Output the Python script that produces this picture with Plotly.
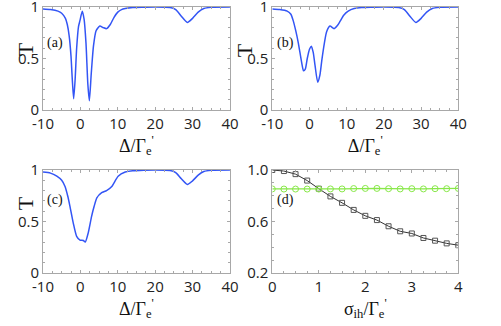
import plotly.graph_objects as go
from plotly.subplots import make_subplots

# Panel (a): transmission vs detuning
delta_a = [-10, -8, -6, -5, -4, -3.5, -3, -2.5, -2.2, -1.8, -1.4, -1.0, -0.5, -0.1, 0.5, 1.0, 1.5,
           2.0, 2.4, 2.9, 3.5, 4.2, 5.2, 6.1, 7.0, 8.0, 9.0, 10, 11, 12, 14, 17, 20, 24, 25.5, 27,
           28.6, 30, 31.5, 33, 35, 40]
t_a = [0.98, 0.975, 0.96, 0.94, 0.89, 0.83, 0.72, 0.52, 0.32, 0.11, 0.3, 0.6, 0.81, 0.87, 0.96,
       0.88, 0.65, 0.25, 0.09, 0.35, 0.62, 0.77, 0.815, 0.80, 0.79, 0.83, 0.9, 0.95, 0.975, 0.985,
       0.995, 0.998, 1.0, 0.995, 0.975, 0.91, 0.85, 0.89, 0.95, 0.985, 0.997, 1.0]

# Panel (b)
delta_b = [-10, -8, -6, -5, -4.4, -3.7, -3.0, -2.1, -1.6, -1.1, -0.6, 0.0, 0.5, 1.0, 1.5, 2.2, 2.8,
           3.3, 4.0, 4.6, 5.5, 6.6, 7.5, 8.2, 9.2, 10.4, 12, 14, 17, 20, 24, 25.5, 27, 28.6, 30,
           31.5, 33, 35, 40]
t_b = [0.98, 0.975, 0.96, 0.93, 0.87, 0.77, 0.65, 0.46, 0.38, 0.40, 0.50, 0.59, 0.62, 0.56, 0.43,
       0.27, 0.34, 0.48, 0.65, 0.76, 0.815, 0.79, 0.82, 0.86, 0.92, 0.96, 0.985, 0.995, 0.998, 1.0,
       0.995, 0.975, 0.91, 0.85, 0.89, 0.95, 0.985, 0.997, 1.0]

# Panel (c)
delta_c = [-10, -8, -6.3, -5, -4.1, -3.4, -2.8, -1.9, -1.0, -0.1, 0.8, 1.3, 2.1, 3.0, 3.7, 4.4,
           5.7, 7.0, 8.4, 10.1, 12, 14, 17, 20, 24, 25.5, 27, 28.6, 30, 31.5, 33, 35, 40]
t_c = [0.98, 0.97, 0.94, 0.9, 0.84, 0.75, 0.65, 0.485, 0.356, 0.32, 0.315, 0.30, 0.39, 0.55, 0.65,
       0.73, 0.78, 0.80, 0.84, 0.94, 0.98, 0.993, 0.998, 1.0, 0.995, 0.975, 0.915, 0.86, 0.895,
       0.95, 0.985, 0.997, 1.0]

# Panel (d): dependence on inhomogeneous broadening
sigma_d = [0, 0.25, 0.5, 0.75, 1.0, 1.25, 1.5, 1.75, 2.0, 2.25, 2.5, 2.75, 3.0, 3.25, 3.5, 3.75, 4.0]
t_black = [1.0, 0.992, 0.968, 0.918, 0.855, 0.795, 0.745, 0.69, 0.644, 0.611, 0.563, 0.524,
           0.507, 0.472, 0.451, 0.43, 0.416]
t_green = [0.853, 0.852, 0.852, 0.852, 0.852, 0.853, 0.853, 0.856, 0.857, 0.857, 0.855, 0.853,
           0.855, 0.853, 0.855, 0.855, 0.857]

blue = "#3355f5"
green = "#88e848"
frame = "#a8a8a8"
tick_font = dict(family="Open Sans", size=15, color="#222")
serif = "Liberation Serif"

fig = make_subplots(rows=2, cols=2)

for (dx, ty), (r, c) in zip([(delta_a, t_a), (delta_b, t_b), (delta_c, t_c)],
                            [(1, 1), (1, 2), (2, 1)]):
    fig.add_trace(go.Scatter(x=dx, y=ty, mode="lines",
                             line=dict(color=blue, width=1.5, shape="spline", smoothing=0.6),
                             showlegend=False), row=r, col=c)

fig.add_trace(go.Scatter(x=sigma_d, y=t_black, mode="lines+markers",
                         line=dict(color="#333", width=1),
                         marker=dict(symbol="square-open", size=5, color="#555",
                                     line=dict(width=1)),
                         showlegend=False), row=2, col=2)
fig.add_trace(go.Scatter(x=sigma_d, y=t_green, mode="lines+markers",
                         line=dict(color=green, width=1.2),
                         marker=dict(symbol="circle-open", size=6, color=green,
                                     line=dict(width=1)),
                         showlegend=False), row=2, col=2)

xdom = [[0.0858, 0.459], [0.5435, 0.9148]]
ydom = [[0.6626, 0.9785], [0.1626, 0.4785]]

axis_common = dict(showline=True, linecolor=frame, linewidth=1, mirror="ticks",
                   ticks="inside", ticklen=3, tickcolor=frame, showgrid=False,
                   zeroline=False, tickfont=tick_font, automargin=False,
                   ticklabeloverflow="allow")

title_x = "Δ/Γ<sub>e</sub><sup>'</sup>"
for i, (r, c) in enumerate([(1, 1), (1, 2), (2, 1), (2, 2)]):
    if i < 3:
        fig.update_xaxes(range=[-10, 40], tickvals=[-10, 0, 10, 20, 30, 40],
                         ticktext=["-10", "0", "10", "20", "30", "40"],
                         minor=dict(ticks="inside", ticklen=2, dtick=2.5, tickcolor=frame),
                         title=dict(text=title_x, font=dict(family=serif, size=18, color="#111"),
                                    standoff=0),
                         domain=xdom[c - 1], row=r, col=c, **axis_common)
        fig.update_yaxes(range=[0, 1], tickvals=[0, 0.5, 1],
                         minor=dict(ticks="inside", ticklen=2, dtick=0.1, tickcolor=frame),
                         domain=ydom[r - 1], row=r, col=c, **axis_common)
    else:
        fig.update_xaxes(range=[0, 4], tickvals=[0, 1, 2, 3, 4],
                         minor=dict(ticks="inside", ticklen=2, dtick=0.25, tickcolor=frame),
                         title=dict(text="σ<sub>ih</sub>/Γ<sub>e</sub><sup>'</sup>",
                                    font=dict(family=serif, size=18, color="#111"),
                                    standoff=0),
                         domain=xdom[1], row=r, col=c, **axis_common)
        fig.update_yaxes(range=[0.2, 1.0], tickvals=[0.2, 0.6, 1.0], tickformat=".1f",
                         minor=dict(ticks="inside", ticklen=2, dtick=0.1, tickcolor=frame),
                         domain=ydom[1], row=r, col=c, **axis_common)

# "T" labels and panel tags
for xp, yp in [(0.022, 0.875), (0.488, 0.875), (0.022, 0.375)]:
    fig.add_annotation(x=xp, y=yp, xref="paper", yref="paper", text="T", textangle=-90,
                       showarrow=False, font=dict(family=serif, size=22, color="#111"))

tags = ["(a)", "(b)", "(c)", "(d)"]
tag_pos = [(0.09, 0.9), (0.548, 0.9), (0.09, 0.385), (0.548, 0.385)]
for tag, (xp, yp) in zip(tags, tag_pos):
    fig.add_annotation(x=xp, y=yp, xref="paper", yref="paper", text=tag, showarrow=False,
                       xanchor="left", font=dict(family=serif, size=14, color="#111"))

fig.update_layout(width=501, height=326, margin=dict(l=0, r=0, t=0, b=0),
                  plot_bgcolor="white", paper_bgcolor="white")

fig.write_html("out.html", config={"displayModeBar": False},
               post_script="document.body.style.margin='0';")
